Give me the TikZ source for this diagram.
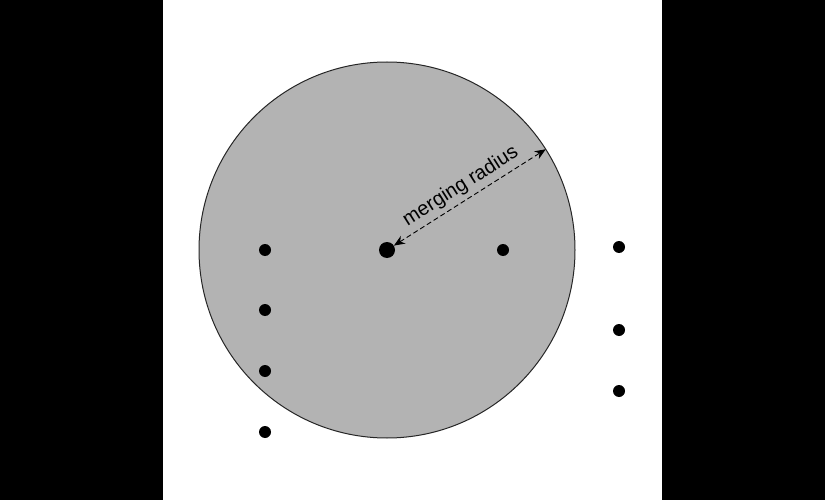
\documentclass[tikz,border=0pt]{standalone}
\usepackage{fontspec}
\setmainfont{Liberation Sans}
\usetikzlibrary{arrows.meta,calc}
\definecolor{discgray}{RGB}{179,179,179}
\tikzset{
  pt/.style={circle, fill=black, inner sep=0pt, minimum size=12pt},
  bigpt/.style={circle, fill=black, inner sep=0pt, minimum size=16pt},
  radarrow/.style={dashed, dash pattern=on 5pt off 3pt, line width=0.9pt, {Stealth[length=11pt,width=9pt]}-{Stealth[length=11pt,width=9pt]}},
}
\begin{document}
\begin{tikzpicture}[x=1pt,y=-1pt]
\useasboundingbox (0,0) rectangle (825,500);
\fill[white] (0,0) rectangle (825,500);
\fill[black] (0,0) rectangle (163,500);
\fill[black] (662,0) rectangle (825,500);
\draw[fill=discgray, draw=black!85, line width=1pt] (387,250) circle[radius=188];
\node[bigpt] (c) at (387,250) {};
\node[pt] (p1) at (265,250) {};
\node[pt] (p2) at (265,310) {};
\node[pt] (p3) at (265,371) {};
\node[pt] (p4) at (265,432) {};
\node[pt] (p5) at (503,250) {};
\node[pt] (p6) at (619,247) {};
\node[pt] (p7) at (619,330) {};
\node[pt] (p8) at (619,391) {};
\coordinate (e) at ($(387,250)+(-32.4:188)$);
\draw[radarrow] (c) -- (e) node[pos=0.49, sloped, above=1pt, font=\fontsize{20}{24}\selectfont, text=black] {merging radius};
\end{tikzpicture}
\end{document}
